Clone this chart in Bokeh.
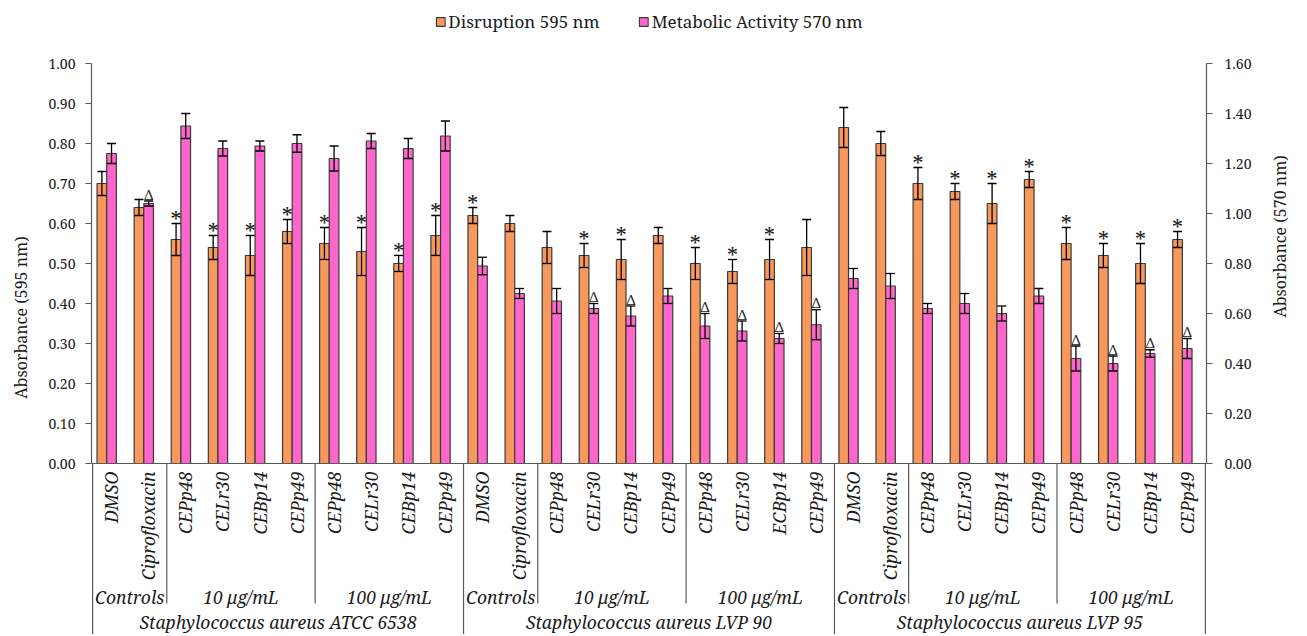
import math
import numpy as np
from bokeh.plotting import figure
from bokeh.models import (ColumnDataSource, Range1d, LinearAxis, FixedTicker, PrintfTickFormatter,
                          Whisker, TeeHead, Span, Legend, LegendItem, Grid)
from bokeh.core.properties import value
from bokeh.embed import file_html
from bokeh.resources import INLINE

# ---------------- data ----------------
organisms = ["Staphylococcus aureus ATCC 6538",
             "Staphylococcus aureus LVP 90",
             "Staphylococcus aureus LVP 95"]
doses = ["Controls", "10 μg/mL", "100 μg/mL"]
dose_sizes = [2, 4, 4]
compounds = ["DMSO", "Ciprofloxacin", "CEPp48", "CELr30", "CEBp14", "CEPp49", "CEPp48", "CELr30", "CEBp14", "CEPp49",
             "DMSO", "Ciprofloxacin", "CEPp48", "CELr30", "CEBp14", "CEPp49", "CEPp48", "CELr30", "ECBp14", "CEPp49",
             "DMSO", "Ciprofloxacin", "CEPp48", "CELr30", "CEBp14", "CEPp49", "CEPp48", "CELr30", "CEBp14", "CEPp49"]

disruption = [0.70, 0.64, 0.56, 0.54, 0.52, 0.58, 0.55, 0.53, 0.50, 0.57,
              0.62, 0.60, 0.54, 0.52, 0.51, 0.57, 0.50, 0.48, 0.51, 0.54,
              0.84, 0.80, 0.70, 0.68, 0.65, 0.71, 0.55, 0.52, 0.50, 0.56]
disruption_err = [0.03, 0.02, 0.04, 0.03, 0.05, 0.03, 0.04, 0.06, 0.02, 0.05,
                  0.02, 0.02, 0.04, 0.03, 0.05, 0.02, 0.04, 0.03, 0.05, 0.07,
                  0.05, 0.03, 0.04, 0.02, 0.05, 0.02, 0.04, 0.03, 0.05, 0.02]
metabolic = [1.24, 1.04, 1.35, 1.26, 1.27, 1.28, 1.22, 1.29, 1.26, 1.31,
             0.79, 0.68, 0.65, 0.62, 0.59, 0.67, 0.55, 0.53, 0.50, 0.555,
             0.74, 0.71, 0.62, 0.64, 0.60, 0.67, 0.42, 0.40, 0.44, 0.46]
metabolic_err = [0.04, 0.01, 0.05, 0.03, 0.02, 0.035, 0.05, 0.03, 0.04, 0.06,
                 0.035, 0.02, 0.05, 0.02, 0.04, 0.03, 0.05, 0.04, 0.02, 0.06,
                 0.04, 0.05, 0.02, 0.04, 0.03, 0.03, 0.05, 0.03, 0.015, 0.04]
star_flags = [0, 0, 1, 1, 1, 1, 1, 1, 1, 1,
              1, 0, 0, 1, 1, 0, 1, 1, 1, 0,
              0, 0, 1, 1, 1, 1, 1, 1, 1, 1]
delta_flags = [0, 1, 0, 0, 0, 0, 0, 0, 0, 0,
               0, 0, 0, 1, 1, 0, 1, 1, 1, 1,
               0, 0, 0, 0, 0, 0, 1, 1, 1, 1]

left_ticks = [0.0, 0.1, 0.2, 0.3, 0.4, 0.5, 0.6, 0.7, 0.8, 0.9, 1.0]
right_ticks = [0.0, 0.2, 0.4, 0.6, 0.8, 1.0, 1.2, 1.4, 1.6]

# ---------------- style ----------------
ORANGE = "#F9985C"
PINK = "#FF66CC"
AX = "#595959"
SERIF = "Noto Serif"
SHIFT = 0.12
BW = 0.26
YTOP, YBOT = 1.1575, -0.4275
RTOP, RBOT = 1.852, -0.684

n = len(compounds)
idx = np.arange(n)
d = np.array(disruption); de = np.array(disruption_err)
m = np.array(metabolic); me = np.array(metabolic_err)
x_or = idx + 0.5 - SHIFT - BW / 2
x_pk = idx + 0.5 - SHIFT + BW / 2

src_or = ColumnDataSource(dict(x=x_or, top=d, upper=d + de, lower=d - de))
src_pk = ColumnDataSource(dict(x=x_pk, top=m, upper=m + me, lower=m - me))

p = figure(width=1305, height=634, x_range=Range1d(-0.03, 30.03), y_range=Range1d(YBOT, YTOP),
           x_axis_location=None, y_axis_location=None,
           output_backend="svg", toolbar_location=None,
           min_border_left=91, min_border_right=98, min_border_top=0, min_border_bottom=0)
p.extra_y_ranges = {"right": Range1d(RBOT, RTOP)}
p.outline_line_color = None
for r in list(p.center):
    if isinstance(r, Grid):
        r.visible = False


def style_axis(ax):
    ax.axis_line_color = AX
    ax.axis_line_width = 1.2
    ax.major_tick_line_color = AX
    ax.major_tick_out = 6
    ax.major_tick_in = 0
    ax.minor_tick_line_color = None
    ax.major_label_text_font = SERIF
    ax.major_label_text_font_size = "14px"
    ax.major_label_text_color = "#1a1a1a"
    ax.major_label_standoff = 10
    ax.axis_label_text_font = SERIF
    ax.axis_label_text_font_size = "16px"
    ax.axis_label_text_font_style = "normal"
    ax.axis_label_text_color = "#1a1a1a"
    ax.formatter = PrintfTickFormatter(format="%.2f")


left = LinearAxis(bounds=(0, 1), ticker=FixedTicker(ticks=left_ticks), axis_label="Absorbance (595 nm)")
style_axis(left)
left.axis_label_standoff = 14
p.add_layout(left, "left")

right = LinearAxis(y_range_name="right", bounds=(0, 1.6), ticker=FixedTicker(ticks=right_ticks),
                   axis_label="Absorbance (570 nm)")
style_axis(right)
right.major_label_standoff = 12
right.axis_label_standoff = 26
if "axis_label_orientation" in right.properties():
    right.axis_label_orientation = math.pi / 2
p.add_layout(right, "right")

p.add_layout(Span(location=0, dimension="width", line_color=AX, line_width=1.2))

r1 = p.vbar(x="x", top="top", bottom=0, width=BW, source=src_or,
            fill_color=ORANGE, line_color="#3a3a3a", line_width=1.2)
r2 = p.vbar(x="x", top="top", bottom=0, width=BW, source=src_pk, y_range_name="right",
            fill_color=PINK, line_color="#3a3a3a", line_width=1.2)

for src, rn in ((src_or, "default"), (src_pk, "right")):
    w = Whisker(base="x", upper="upper", lower="lower", source=src, y_range_name=rn,
                level="annotation", line_color="black", line_width=1.3,
                upper_head=TeeHead(size=9, line_color="black", line_width=1.3),
                lower_head=TeeHead(size=9, line_color="black", line_width=1.3))
    p.add_layout(w)

sf = np.array(star_flags) == 1
p.text(x=x_or[sf], y=(d + de)[sf], text=["*"] * int(sf.sum()),
       text_font=value(SERIF), text_font_size="22px", text_align="center",
       text_baseline="alphabetic", y_offset=-5, text_color="#222222")
df = np.array(delta_flags) == 1
p.text(x=x_pk[df], y=(m + me)[df], text=["Δ"] * int(df.sum()), y_range_name="right",
       text_font=value(SERIF), text_font_size="14px", text_align="center",
       text_baseline="alphabetic", y_offset=-7, text_color="#222222")

# ---------------- category table ----------------
org_size = sum(dose_sizes)
full_x = [k * org_size for k in range(len(organisms) + 1)]
p.segment(x0=full_x, y0=[0] * len(full_x), x1=full_x, y1=[YBOT] * len(full_x),
          line_color=AX, line_width=1.2)
inner_x = []
dose_x, dose_t = [], []
for k in range(len(organisms)):
    start = k * org_size
    for j, sz in enumerate(dose_sizes):
        dose_x.append(start + sz / 2)
        dose_t.append(doses[j])
        start += sz
        if j < len(dose_sizes) - 1:
            inner_x.append(start)
p.segment(x0=inner_x, y0=[0] * len(inner_x), x1=inner_x, y1=[-0.35] * len(inner_x),
          line_color=AX, line_width=1.2)

p.text(x=idx + 0.5, y=[-0.02] * n, text=compounds, angle=np.pi / 2,
       text_font=value(SERIF), text_font_style="italic", text_font_size="17.5px",
       text_align="right", text_baseline="middle", text_color="#1a1a1a")
p.text(x=dose_x, y=[-0.3325] * len(dose_x), text=dose_t,
       text_font=value(SERIF), text_font_style="italic", text_font_size="17.5px",
       text_align="center", text_baseline="middle", text_color="#1a1a1a")
p.text(x=[k * org_size + org_size / 2 for k in range(len(organisms))], y=[-0.397] * len(organisms),
       text=organisms, text_font=value(SERIF), text_font_style="italic", text_font_size="17.5px",
       text_align="center", text_baseline="middle", text_color="#1a1a1a")

legend = Legend(items=[LegendItem(label="Disruption 595 nm", renderers=[r1]),
                       LegendItem(label="Metabolic Activity 570 nm", renderers=[r2])],
                orientation="horizontal", location="top_center",
                label_text_font=SERIF, label_text_font_size="17px", label_text_color="#1a1a1a",
                glyph_width=11, glyph_height=11, spacing=38, padding=3, margin=10,
                label_standoff=3, border_line_color=None, background_fill_alpha=0)
p.add_layout(legend)

open("out.html", "w").write(file_html(p, INLINE))
